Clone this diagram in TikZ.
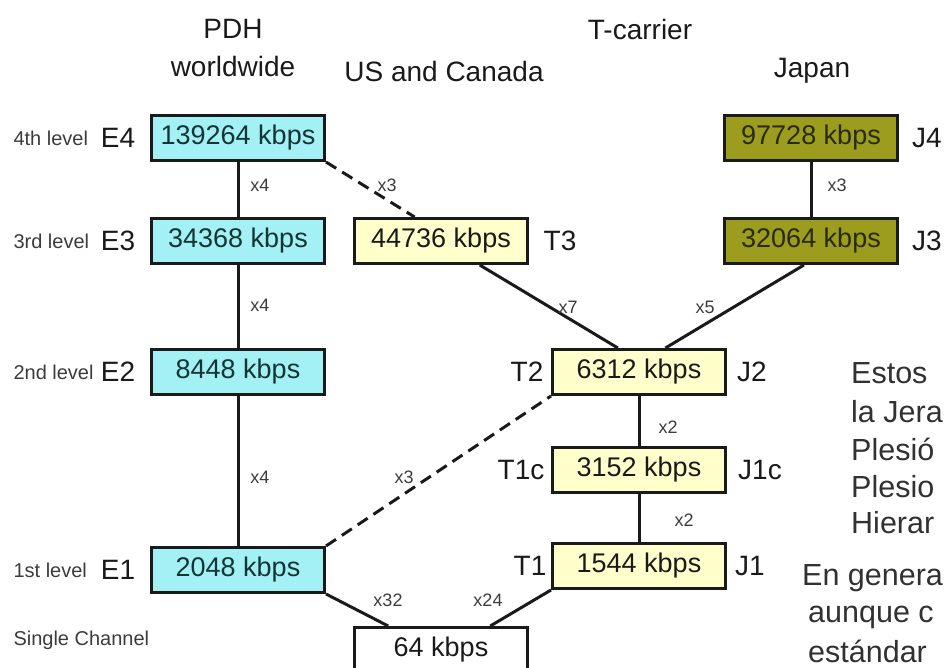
\documentclass[tikz,border=0pt]{standalone}
\usepackage{fontspec}
\setmainfont{Liberation Sans}
\usetikzlibrary{calc}
\definecolor{ecyan}{HTML}{A3F0F5}
\definecolor{tyellow}{HTML}{FFFFCC}
\definecolor{jolive}{HTML}{9C9C1E}
\definecolor{ink}{HTML}{1A1A1A}
\definecolor{etext}{HTML}{143535}
\definecolor{jtext}{HTML}{2A2A08}

\begin{document}
\begin{tikzpicture}[x=1pt, y=-1pt,
    rate/.style={draw=ink, line width=3pt, minimum width=173pt, minimum height=45pt,
                 inner sep=0pt, font=\fontsize{27}{30}\selectfont},
    ebox/.style={rate, fill=ecyan, text=etext},
    tbox/.style={rate, fill=tyellow, text=ink},
    jbox/.style={rate, fill=jolive, text=jtext},
    head/.style={font=\fontsize{28}{32}\selectfont, text=ink},
    lvl/.style={font=\fontsize{20}{24}\selectfont, text=ink!85, anchor=west},
    tag/.style={font=\fontsize{28}{32}\selectfont, text=ink},
    mult/.style={font=\fontsize{18}{20}\selectfont, text=ink!85},
    link/.style={line width=3pt, draw=ink},
    dlink/.style={link, dash pattern=on 12pt off 7pt},
    para/.style={font=\fontsize{30.5}{36}\selectfont, text=ink!90, anchor=base west, inner sep=0pt}
  ]
  \useasboundingbox (0,0) rectangle (944,668);
  \clip (0,0) rectangle (944,668);

  % column headings
  \node[head] (hpdh) at (233,29) {PDH};
  \node[head] (hww) at (233,66) {worldwide};
  \node[head] (htc) at (640,29) {T-carrier};
  \node[head] (hus) at (444,71) {US and Canada};
  \node[head] (hjp) at (812,71) {Japan};

  % levels
  \node[lvl] (l4) at (10,138) {4th level};
  \node[lvl] (l3) at (10,241) {3rd level};
  \node[lvl] (l2) at (10,372) {2nd level};
  \node[lvl] (l1) at (10,570) {1st level};
  \node[lvl] (l0) at (10,640) {Single Channel};

  % PDH boxes
  \node[ebox] (e4) at (238,138) {139264 kbps};
  \node[ebox] (e3) at (238,241) {34368 kbps};
  \node[ebox] (e2) at (238,372) {8448 kbps};
  \node[ebox] (e1) at (238,570) {2048 kbps};
  \node[tag] (te4) at (118,138) {E4};
  \node[tag] (te3) at (118,241) {E3};
  \node[tag] (te2) at (118,372) {E2};
  \node[tag] (te1) at (118,570) {E1};

  % T-carrier boxes
  \node[tbox] (t3) at (441,241) {44736 kbps};
  \node[tbox] (t2) at (639,372) {6312 kbps};
  \node[tbox] (t1c) at (639,470) {3152 kbps};
  \node[tbox] (t1) at (639,566) {1544 kbps};
  \node[tag] (tt3) at (560,241) {T3};
  \node[tag] (tt2) at (527,372) {T2};
  \node[tag] (tt1c) at (521,470) {T1c};
  \node[tag] (tt1) at (530,566) {T1};
  \node[tag] (tj2) at (752,372) {J2};
  \node[tag] (tj1c) at (760,470) {J1c};
  \node[tag] (tj1) at (750,566) {J1};

  % Japan boxes
  \node[jbox] (j4) at (811,138) {97728 kbps};
  \node[jbox] (j3) at (811,241) {32064 kbps};
  \node[tag] (tj4) at (927,138) {J4};
  \node[tag] (tj3) at (927,241) {J3};

  \node[rate, fill=white, text=ink] (ch64) at (441,650) {64 kbps};

  % connectors
  \draw[link] (e4.south) -- (e3.north);
  \draw[link] (e3.south) -- (e2.north);
  \draw[link] (e2.south) -- (e1.north);
  \draw[link] (j4.south) -- (j3.north);
  \draw[link] (t2.south) -- (t1c.north);
  \draw[link] (t1c.south) -- (t1.north);
  \draw[dlink] (e4.south east) -- ($(t3.north west)!0.35!(t3.north east)$);
  \draw[dlink] (e1.north east) -- (t2.south west);
  \draw[link] ($(t3.south west)!0.72!(t3.south east)$) -- ($(t2.north west)!0.38!(t2.north east)$);
  \draw[link] ($(j3.south west)!0.46!(j3.south east)$) -- ($(t2.north west)!0.65!(t2.north east)$);
  \draw[link] (e1.south east) -- ($(ch64.north west)!0.2!(ch64.north east)$);
  \draw[link] (t1.south west) -- ($(ch64.north west)!0.78!(ch64.north east)$);

  % multiplexing factors
  \node[mult] (m1) at (260,185) {x4};
  \node[mult] (m2) at (260,305) {x4};
  \node[mult] (m3) at (260,477) {x4};
  \node[mult] (m4) at (387,185) {x3};
  \node[mult] (m5) at (404,477) {x3};
  \node[mult] (m6) at (837,185) {x3};
  \node[mult] (m7) at (568,307) {x7};
  \node[mult] (m8) at (705,307) {x5};
  \node[mult] (m9) at (668,427) {x2};
  \node[mult] (m10) at (684,520) {x2};
  \node[mult] (m11) at (388,600) {x32};
  \node[mult] (m12) at (488,600) {x24};

  % text at the right edge
  \node[para] (p1) at (851,383) {Estos};
  \node[para] (p2) at (851,422) {la Jera};
  \node[para] (p3) at (851,460) {Plesió};
  \node[para] (p4) at (851,497) {Plesio};
  \node[para] (p5) at (851,533) {Hierar};
  \node[para] (p6) at (802,585) {En genera};
  \node[para] (p7) at (808,622) {aunque c};
  \node[para] (p8) at (808,662) {estándar};
\end{tikzpicture}
\end{document}
